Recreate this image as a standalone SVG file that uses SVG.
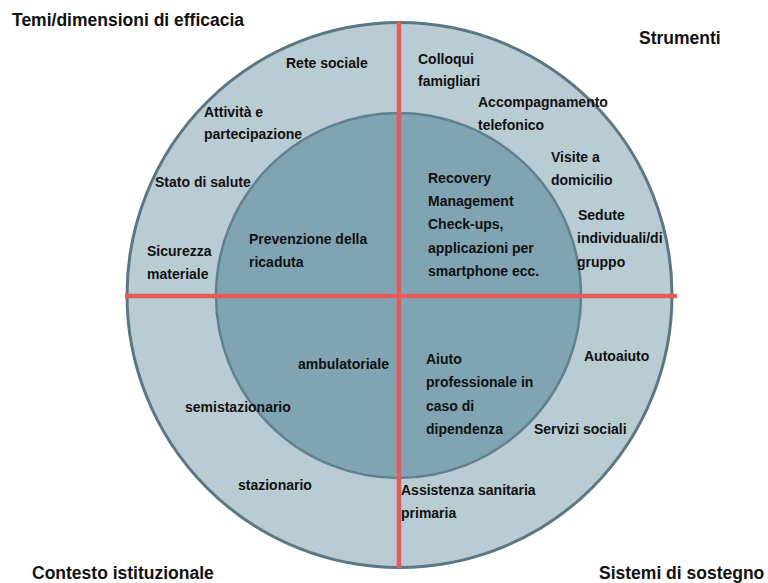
<svg xmlns="http://www.w3.org/2000/svg" width="768" height="583" viewBox="0 0 768 583">
<style>
.lbl{font-family:"Liberation Sans",Arial,sans-serif;font-weight:bold;font-size:14px;fill:#111}
.ttl{font-family:"Liberation Sans",Arial,sans-serif;font-weight:bold;font-size:17.5px;fill:#111}
.outer{fill:#b9ccd3;stroke:#5a7784;stroke-width:3}
.inner{fill:#80a4b2;stroke:#5f818f;stroke-width:2.5}
.axis{stroke:#e85a5a;stroke-width:4.5;fill:none}
</style>
<rect width="768" height="583" fill="#fff"/>
<g id="outer-ring"><circle class="outer" cx="399.5" cy="295" r="272.5"/></g>
<g id="inner-circle"><circle class="inner" cx="398.5" cy="295.5" r="182.5"/></g>
<g id="connectors">
<line class="axis" x1="399" y1="22" x2="399" y2="568"/>
<line class="axis" x1="125" y1="296" x2="677" y2="296"/>
</g>
<g id="title-temi"><text class="ttl" x="12" y="26">Temi/dimensioni di efficacia</text></g>
<g id="title-strumenti"><text class="ttl" x="639" y="44">Strumenti</text></g>
<g id="title-contesto"><text class="ttl" x="32" y="579">Contesto istituzionale</text></g>
<g id="title-sistemi"><text class="ttl" x="599" y="579">Sistemi di sostegno</text></g>
<g id="rete-sociale"><text class="lbl" x="286" y="68">Rete sociale</text></g>
<g id="attivita"><text class="lbl" x="204" y="117">Attività e</text><text class="lbl" x="204" y="139">partecipazione</text></g>
<g id="stato-salute"><text class="lbl" x="155" y="187">Stato di salute</text></g>
<g id="sicurezza"><text class="lbl" x="147" y="256">Sicurezza</text><text class="lbl" x="147" y="279">materiale</text></g>
<g id="prevenzione"><text class="lbl" x="249" y="244">Prevenzione della</text><text class="lbl" x="249" y="267">ricaduta</text></g>
<g id="colloqui"><text class="lbl" x="418" y="64">Colloqui</text><text class="lbl" x="418" y="86">famigliari</text></g>
<g id="accompagnamento"><text class="lbl" x="478" y="107">Accompagnamento</text><text class="lbl" x="478" y="130">telefonico</text></g>
<g id="visite"><text class="lbl" x="551" y="162">Visite a</text><text class="lbl" x="551" y="185">domicilio</text></g>
<g id="recovery"><text class="lbl" x="428" y="183">Recovery</text><text class="lbl" x="428" y="206">Management</text><text class="lbl" x="428" y="229">Check-ups,</text><text class="lbl" x="428" y="253">applicazioni per</text><text class="lbl" x="428" y="276">smartphone ecc.</text></g>
<g id="sedute"><text class="lbl" x="578" y="220">Sedute</text><text class="lbl" x="577" y="243">individuali/di</text><text class="lbl" x="577" y="267">gruppo</text></g>
<g id="ambulatoriale"><text class="lbl" x="298" y="369">ambulatoriale</text></g>
<g id="semistazionario"><text class="lbl" x="185" y="412">semistazionario</text></g>
<g id="stazionario"><text class="lbl" x="238" y="490">stazionario</text></g>
<g id="aiuto"><text class="lbl" x="426" y="364">Aiuto</text><text class="lbl" x="426" y="387">professionale in</text><text class="lbl" x="426" y="411">caso di</text><text class="lbl" x="426" y="434">dipendenza</text></g>
<g id="autoaiuto"><text class="lbl" x="584" y="361">Autoaiuto</text></g>
<g id="servizi"><text class="lbl" x="534" y="434">Servizi sociali</text></g>
<g id="assistenza"><text class="lbl" x="401" y="495">Assistenza sanitaria</text><text class="lbl" x="401" y="518">primaria</text></g>
</svg>
